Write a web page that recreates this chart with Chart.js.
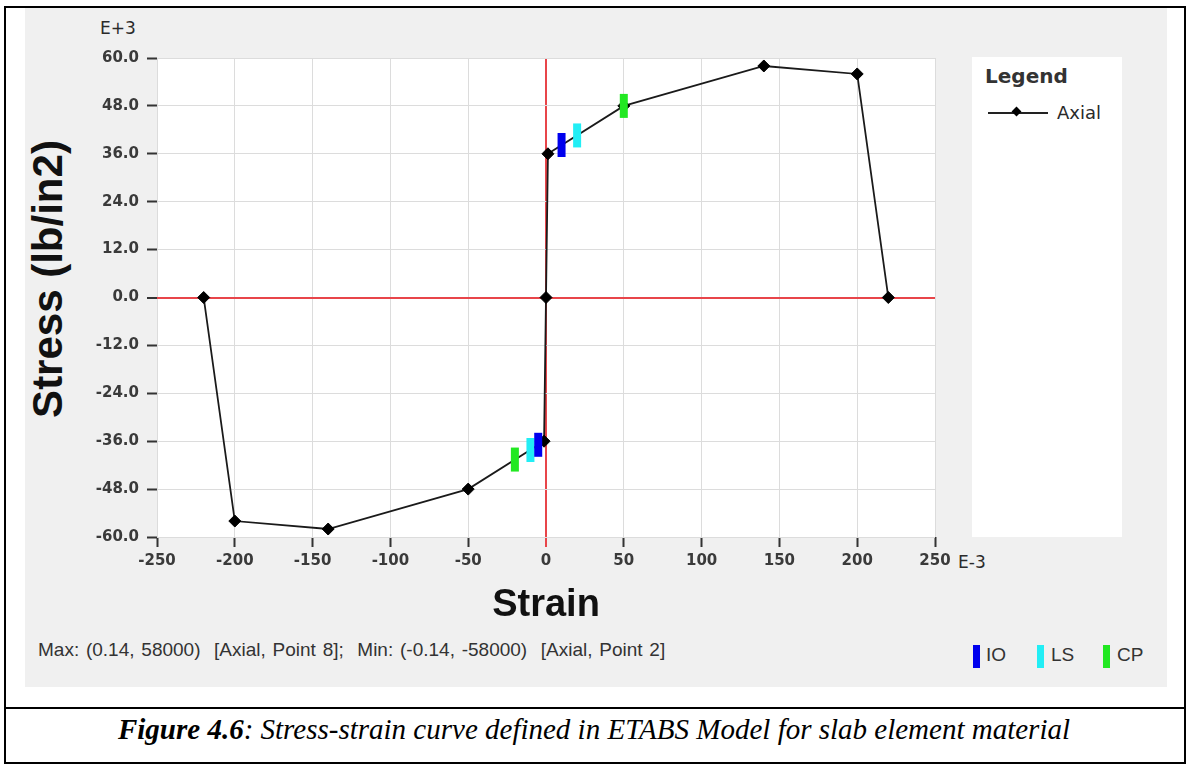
<!DOCTYPE html>
<html>
<head>
<meta charset="utf-8">
<script src="https://cdn.jsdelivr.net/npm/chart.js@4.4.1/dist/chart.umd.min.js"></script>
<style>
  body { margin: 0; width: 1188px; height: 765px; background: #fff; position: relative; overflow: hidden; }
  .abs { position: absolute; }
  #frame { left: 4px; top: 6px; width: 1178px; height: 754px; border: 2px solid #000; }
  #divider { left: 4px; top: 707px; width: 1182px; height: 2px; background: #000; }
  #panel { left: 25px; top: 8px; width: 1142px; height: 679px; background: #f0f0f0; }
  #legendBox { left: 972px; top: 57px; width: 150px; height: 480px; background: #fff; }
  .ui { font-family: "DejaVu Sans", sans-serif; color: #2a2a2a; }
  #legTitle { left: 985px; top: 64px; font-size: 20px; font-weight: bold; color: #333; }
  #legLine { left: 988px; top: 112px; width: 60px; height: 1.5px; background: #222; }
  #legDot { left: 1013px; top: 108px; width: 7px; height: 7px; background: #000; transform: rotate(45deg); }
  #legAxial { left: 1057px; top: 102px; font-size: 18px; }
  #eTop { left: 100px; top: 18px; font-size: 17px; }
  #eRight { left: 958px; top: 552px; font-size: 17px; }
  #yTitle { left: 48px; top: 279px; width: 0; height: 0; }
  #yTitle span { position: absolute; left: 0; top: 0; transform: translate(-50%, -50%) rotate(-90deg); white-space: nowrap;
                 font-family: "Liberation Sans", sans-serif; font-weight: bold; font-size: 42px; color: #111; }
  #info { left: 38px; top: 639px; font-family: "Liberation Sans", sans-serif; font-size: 19px; color: #333; white-space: pre; word-spacing: 1.5px; }
  .pl { top: 645px; width: 7px; height: 23px; }
  .plt { top: 644px; font-family: "Liberation Sans", sans-serif; font-size: 19px; color: #333; }
  #caption { left: 0; top: 713px; width: 1188px; text-align: center; font-family: "Liberation Serif", serif; font-style: italic; font-size: 29px; color: #000; }
  canvas { position: absolute; left: 0; top: 0; }
</style>
</head>
<body>
<div id="frame" class="abs"></div>
<div id="divider" class="abs"></div>
<div id="panel" class="abs"></div>
<div id="legendBox" class="abs"></div>
<div id="legTitle" class="abs ui">Legend</div>
<div id="legLine" class="abs"></div>
<div id="legDot" class="abs"></div>
<div id="legAxial" class="abs ui">Axial</div>
<div id="eTop" class="abs ui">E+3</div>
<div id="eRight" class="abs ui">E-3</div>
<div id="yTitle" class="abs"><span>Stress (lb/in2)</span></div>
<div id="info" class="abs">Max: (0.14, 58000)  [Axial, Point 8];  Min: (-0.14, -58000)  [Axial, Point 2]</div>
<div class="abs pl" style="left:973px;background:#0000ee"></div>
<div class="abs plt" style="left:986px">IO</div>
<div class="abs pl" style="left:1037px;background:#22eef5"></div>
<div class="abs plt" style="left:1051px">LS</div>
<div class="abs pl" style="left:1103px;background:#22e822"></div>
<div class="abs plt" style="left:1117px">CP</div>
<div id="caption" class="abs"><b>Figure 4.6</b>: Stress-strain curve defined in ETABS Model for slab element material</div>
<canvas id="chart" width="1188" height="765"></canvas>
<script>
// strain in E-3, stress in E+3 lb/in2
const strain = [-220, -200, -140, -50, -1.24, 0, 1.24, 50, 140, 200, 220];
const stress = [0, -56, -58, -48, -36, 0, 36, 48, 58, 56, 0];

// acceptance markers (IO / LS / CP) on the curve
const ioStrain = [10, -5];
const ioStress = [38.2, -36.9];
const lsStrain = [20, -10];
const lsStress = [40.6, -38.2];
const cpStrain = [50, -20];
const cpStress = [48, -40.6];

const xTicks = [-250, -200, -150, -100, -50, 0, 50, 100, 150, 200, 250];
const yTicks = [-60, -48, -36, -24, -12, 0, 12, 24, 36, 48, 60];

function pts(xs, ys) {
    return xs.map((x, i) => ({ x: x, y: ys[i] }));
}

function marker(label, xs, ys, color) {
    return {
        label: label,
        data: pts(xs, ys),
        showLine: false,
        pointStyle: "line",
        pointRotation: 90,
        pointRadius: 12,
        pointBorderWidth: 8,
        pointBorderColor: color,
        pointBackgroundColor: color
    };
}

const plotBg = {
    id: "plotBg",
    beforeDraw(chart) {
        const a = chart.chartArea;
        const ctx = chart.ctx;
        ctx.save();
        ctx.fillStyle = "#fff";
        ctx.fillRect(a.left, a.top, a.right - a.left, a.bottom - a.top);
        ctx.restore();
    }
};

const gridColor = c => (c.tick && c.tick.value === 0) ? "#e8454a" : "#dcdcdc";
const gridWidth = c => (c.tick && c.tick.value === 0) ? 2 : 1;
const tickFont = { family: "DejaVu Sans", size: 15, weight: "bold" };

new Chart(document.getElementById("chart"), {
    type: "scatter",
    data: {
        datasets: [
            marker("IO", ioStrain, ioStress, "#0000ee"),
            marker("LS", lsStrain, lsStress, "#22eef5"),
            marker("CP", cpStrain, cpStress, "#22e822"),
            {
                label: "Axial",
                data: pts(strain, stress),
                showLine: true,
                borderColor: "#1a1a1a",
                borderWidth: 1.8,
                pointStyle: "rectRot",
                pointRadius: 6,
                pointBackgroundColor: "#000",
                pointBorderColor: "#000",
                pointBorderWidth: 1
            }
        ]
    },
    options: {
        responsive: false,
        animation: false,
        devicePixelRatio: 1,
        layout: { padding: { left: 25, right: 253, top: 58, bottom: 128 } },
        plugins: { legend: { display: false }, tooltip: { enabled: false } },
        scales: {
            x: {
                min: -250, max: 250,
                afterBuildTicks: s => { s.ticks = xTicks.map(v => ({ value: v })); },
                afterFit: s => { s.height = 100; },
                ticks: { font: tickFont, color: "#3a3a3a", padding: 5, maxRotation: 0 },
                grid: {
                    color: gridColor, lineWidth: gridWidth, tickLength: 10,
                    tickColor: c => (c.tick && c.tick.value === 0) ? "#e8454a" : "#333",
                    tickWidth: 2
                },
                border: { display: false },
                title: {
                    display: true, text: "Strain", color: "#111",
                    font: { family: "Liberation Sans", size: 38, weight: "bold" },
                    padding: { top: 0, bottom: 9 }
                }
            },
            y: {
                min: -60, max: 60,
                afterBuildTicks: s => { s.ticks = yTicks.map(v => ({ value: v })); },
                afterFit: s => { s.width = 132; },
                ticks: { font: tickFont, color: "#3a3a3a", padding: 8, callback: v => v.toFixed(1) },
                grid: {
                    color: gridColor, lineWidth: gridWidth, tickLength: 10,
                    tickColor: "#333", tickWidth: 2
                },
                border: { display: false }
            }
        }
    },
    plugins: [plotBg]
});
</script>
</body>
</html>
